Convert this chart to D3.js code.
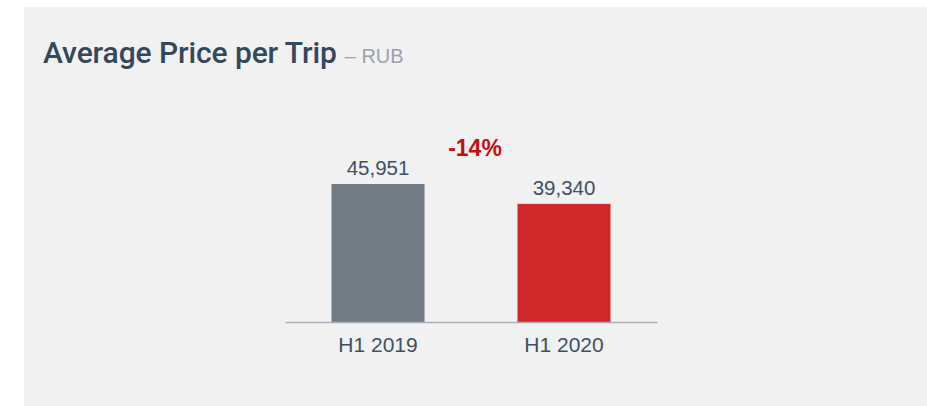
<!DOCTYPE html>
<html>
<head>
<meta charset="utf-8">
<script src="https://cdn.jsdelivr.net/npm/d3@7"></script>
<style>
  body { margin: 0; background: #fff; }
  svg { display: block; font-family: "Liberation Sans", Arial, sans-serif; }
</style>
</head>
<body>
<script>
// chart data
var categories = ["H1 2019", "H1 2020"];
var values = [45951, 39340];
var barColors = ["#737b85", "#d0282a"];
var changeLabel = "-14%";
var titleText = "Average Price per Trip";
var unitText = "– RUB";

var width = 927, height = 406;

var svg = d3.select("body").append("svg")
    .attr("width", width)
    .attr("height", height);

// light panel
svg.append("rect")
    .attr("x", 24).attr("y", 7)
    .attr("width", width - 24).attr("height", height - 7)
    .attr("fill", "#f1f1f1");

// title
var title = svg.append("text")
    .attr("x", 43)
    .attr("y", 63)
    .style("font-family", "Roboto, 'Liberation Sans', sans-serif")
    .style("font-weight", "500")
    .style("font-size", "30px")
    .style("letter-spacing", "-0.1px")
    .attr("fill", "#34475b")
    .text(titleText);
title.append("tspan")
    .attr("dx", 8)
    .style("font-family", "'Liberation Sans', Arial, sans-serif")
    .style("font-weight", "normal")
    .style("font-size", "20px")
    .style("letter-spacing", "0px")
    .attr("fill", "#9ba1aa")
    .text(unitText);

// scales
var x = d3.scaleBand()
    .domain(categories)
    .range([285, 657])
    .paddingInner(0.5)
    .paddingOuter(0.25);

var y = d3.scaleLinear()
    .domain([0, d3.max(values)])
    .range([322, 184]);

var data = categories.map(function(c, i) { return {cat: c, value: values[i], color: barColors[i]}; });

// bars
svg.append("g")
    .selectAll("rect")
    .data(data)
    .enter()
    .append("rect")
      .attr("x", function(d) { return x(d.cat); })
      .attr("y", function(d) { return y(d.value); })
      .attr("width", x.bandwidth())
      .attr("height", function(d) { return y(0) - y(d.value); })
      .attr("fill", function(d) { return d.color; });

// value labels
svg.append("g")
    .selectAll("text")
    .data(data)
    .enter()
    .append("text")
      .attr("x", function(d) { return x(d.cat) + x.bandwidth() / 2; })
      .attr("y", function(d) { return y(d.value) - 9; })
      .attr("text-anchor", "middle")
      .style("font-size", "20.5px")
      .attr("fill", "#3e5064")
      .text(function(d) { return d3.format(",")(d.value); });

// x axis
var xAxis = svg.append("g")
    .attr("transform", "translate(0," + y(0) + ")")
    .call(d3.axisBottom(x).tickSize(0).tickPadding(15));
xAxis.select(".domain")
    .attr("stroke", "#a9b0b9")
    .attr("stroke-width", 1.5);
xAxis.selectAll("text")
    .style("font-size", "21px")
    .style("font-family", "'Liberation Sans', Arial, sans-serif")
    .attr("fill", "#3e5064");

// change label between bars
svg.append("text")
    .attr("x", (x(categories[0]) + x(categories[1]) + x.bandwidth()) / 2 + 4)
    .attr("y", 156)
    .attr("text-anchor", "middle")
    .style("font-size", "23px")
    .style("font-weight", "bold")
    .attr("fill", "#c30e12")
    .text(changeLabel);
</script>
</body>
</html>
